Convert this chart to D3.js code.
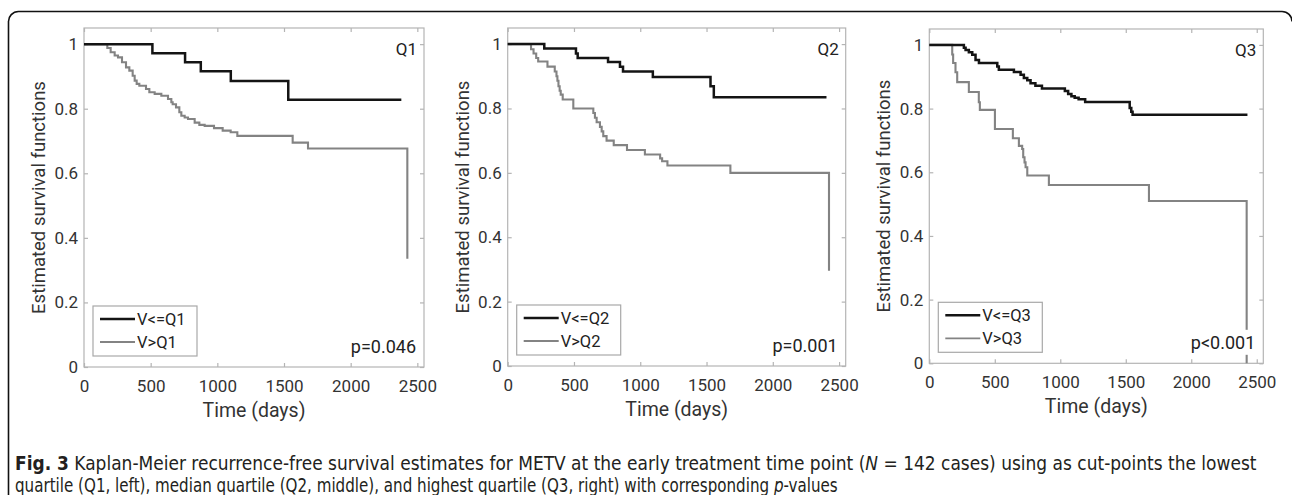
<!DOCTYPE html>
<html><head><meta charset="utf-8">
<script src="https://cdn.jsdelivr.net/npm/d3@7"></script>
<style>
body{margin:0;background:#fff;}
svg{display:block;}
</style></head><body>
<svg id="chart" width="1292" height="495"></svg>
<script>
// ---------- data ----------
const xTickValues = [0, 500, 1000, 1500, 2000, 2500];
const yTickValues = [0, 0.2, 0.4, 0.6, 0.8, 1];
const yTickLabels = ["0", "0.2", "0.4", "0.6", "0.8", "1"];
const panelNames = ["Q1", "Q2", "Q3"];
const lowLabels = ["V<=Q1", "V<=Q2", "V<=Q3"];
const highLabels = ["V>Q1", "V>Q2", "V>Q3"];
const pLabels = ["p=0.046", "p=0.001", "p<0.001"];

// Panel Q1
const q1LowTime = [0, 513, 758, 876, 1101, 1532, 2380];
const q1LowSurv = [1, 0.972, 0.944, 0.916, 0.886, 0.828, 0.828];
const q1HighTime = [0, 175, 200, 230, 255, 285, 315, 340, 365, 380, 395, 415, 465, 490, 530, 580, 630, 655, 665, 690, 715, 730, 755, 780, 830, 865, 905, 975, 1040, 1100, 1150, 1565, 1680, 2425];
const q1HighSurv = [1, 0.988, 0.975, 0.965, 0.959, 0.944, 0.928, 0.918, 0.902, 0.887, 0.877, 0.871, 0.861, 0.851, 0.846, 0.840, 0.830, 0.820, 0.814, 0.804, 0.789, 0.778, 0.773, 0.768, 0.757, 0.750, 0.747, 0.740, 0.732, 0.727, 0.716, 0.695, 0.677, 0.335];

// Panel Q2
const q2LowTime = [0, 276, 515, 528, 757, 847, 870, 1095, 1530, 1555, 2405];
const q2LowSurv = [1, 0.986, 0.971, 0.957, 0.944, 0.930, 0.915, 0.898, 0.869, 0.835, 0.835];
const q2HighTime = [0, 176, 195, 215, 230, 300, 355, 368, 375, 383, 392, 400, 415, 495, 646, 658, 671, 696, 709, 721, 746, 800, 900, 1035, 1150, 1165, 1205, 1680, 2424];
const q2HighSurv = [1, 0.984, 0.971, 0.957, 0.946, 0.930, 0.915, 0.900, 0.886, 0.869, 0.855, 0.843, 0.828, 0.800, 0.786, 0.771, 0.757, 0.743, 0.729, 0.714, 0.700, 0.686, 0.671, 0.657, 0.645, 0.636, 0.623, 0.600, 0.296];

// Panel Q3
const q3LowTime = [0, 264, 277, 302, 328, 353, 379, 519, 531, 646, 697, 722, 748, 773, 810, 860, 1035, 1060, 1085, 1110, 1140, 1190, 1530, 1542, 1552, 2429];
const q3LowSurv = [1, 0.991, 0.984, 0.977, 0.969, 0.953, 0.943, 0.932, 0.922, 0.915, 0.906, 0.896, 0.889, 0.880, 0.872, 0.863, 0.855, 0.846, 0.839, 0.834, 0.829, 0.821, 0.802, 0.790, 0.781, 0.781];
const q3HighTime = [0, 175, 182, 200, 213, 302, 378, 386, 501, 638, 684, 709, 717, 727, 735, 748, 913, 1677, 2423];
const q3HighSurv = [1, 0.970, 0.943, 0.914, 0.883, 0.852, 0.820, 0.796, 0.736, 0.707, 0.683, 0.673, 0.647, 0.631, 0.616, 0.590, 0.560, 0.510, 0];

// ---------- layout ----------
const layout = [
  {L: 84,    T: 28, R: 424,    B: 367},
  {L: 507.7, T: 28, R: 845.7,  B: 366},
  {L: 929.3, T: 29, R: 1263.3, B: 363.3}
];
const series = [
  [q1LowTime, q1LowSurv, q1HighTime, q1HighSurv],
  [q2LowTime, q2LowSurv, q2HighTime, q2HighSurv],
  [q3LowTime, q3LowSurv, q3HighTime, q3HighSurv]
];

const svg = d3.select("#chart");
const FONT = "Roboto, 'Noto Sans', sans-serif";
const TXT = "#333";
const BOX = "#b4b4b4";

// outer frame
svg.append("path")
  .attr("d", "M8.5,495 V22 A10,10 0 0 1 18.5,11.5 H1282 A10,10 0 0 1 1292,21.5")
  .attr("fill", "none").attr("stroke", "#111").attr("stroke-width", 1.6);

layout.forEach((p, i) => {
  const x = d3.scaleLinear().domain([0, 2550]).range([p.L, p.R]);
  const y = d3.scaleLinear().domain([0, 1.05]).range([p.B, p.T]);
  const g = svg.append("g");

  // box
  g.append("rect").attr("x", p.L).attr("y", p.T)
    .attr("width", p.R - p.L).attr("height", p.B - p.T)
    .attr("fill", "none").attr("stroke", BOX).attr("stroke-width", 1.2);

  const styleAxis = sel => {
    sel.select(".domain").remove();
    sel.selectAll(".tick line").attr("stroke", BOX).attr("stroke-width", 1.2);
    sel.selectAll(".tick text").attr("fill", TXT).style("font-family", FONT).style("font-size", "17px");
  };

  g.append("g").attr("transform", `translate(0,${p.B})`)
    .call(d3.axisBottom(x).tickValues(xTickValues).tickFormat(d3.format("d")).tickSize(-4).tickPadding(12.5))
    .call(styleAxis);
  g.append("g").attr("transform", `translate(0,${p.T})`)
    .call(d3.axisTop(x).tickValues(xTickValues).tickFormat("").tickSize(-4))
    .call(styleAxis);
  g.append("g").attr("transform", `translate(${p.L},0)`)
    .call(d3.axisLeft(y).tickValues(yTickValues).tickFormat((d, k) => yTickLabels[k]).tickSize(-4).tickPadding(6))
    .call(styleAxis);
  g.append("g").attr("transform", `translate(${p.R},0)`)
    .call(d3.axisRight(y).tickValues(yTickValues).tickFormat("").tickSize(-4))
    .call(styleAxis);

  // axis labels
  g.append("text")
    .attr("transform", `translate(${p.L - 39},${(p.T + p.B) / 2}) rotate(-90)`)
    .attr("text-anchor", "middle").attr("fill", TXT)
    .style("font-family", FONT).style("font-size", "18.5px")
    .text("Estimated survival functions");
  g.append("text")
    .attr("x", (p.L + p.R) / 2).attr("y", p.B + 50)
    .attr("text-anchor", "middle").attr("fill", TXT)
    .style("font-family", FONT).style("font-size", "19.5px")
    .text("Time (days)");

  // curves
  const [lt, ls, ht, hs] = series[i];
  const line = d3.line().x(d => x(d[0])).y(d => y(d[1])).curve(d3.curveStepAfter);
  g.append("path").datum(ht.map((t, k) => [t, hs[k]]))
    .attr("d", line).attr("fill", "none").attr("stroke", "#838383").attr("stroke-width", 2.1);
  g.append("path").datum(lt.map((t, k) => [t, ls[k]]))
    .attr("d", line).attr("fill", "none").attr("stroke", "#141414").attr("stroke-width", 2.5);

  // panel name
  g.append("text").attr("x", p.R - 7).attr("y", p.T + 27)
    .attr("text-anchor", "end").attr("fill", "#222")
    .style("font-family", FONT).style("font-size", "17px").text(panelNames[i]);

  // p-value with white background
  const pt = g.append("text").attr("x", p.R - 8).attr("y", p.B - 14.5)
    .attr("text-anchor", "end").attr("fill", "#222")
    .style("font-family", FONT).style("font-size", "18px").text(pLabels[i]);
  const bb = pt.node().getBBox();
  g.insert("rect", function () { return pt.node(); })
    .attr("x", bb.x - 2).attr("y", bb.y - 2).attr("width", bb.width + 4).attr("height", bb.height + 4)
    .attr("fill", "#fff");

  // legend
  const lx = p.L + 9, lw = 104, lh = 50, ly = p.B - 11 - lh;
  const lg = g.append("g");
  lg.append("rect").attr("x", lx).attr("y", ly).attr("width", lw).attr("height", lh)
    .attr("fill", "#fff").attr("stroke", "#a8a8a8").attr("stroke-width", 1.2);
  const items = [[lowLabels[i], "#141414", 2.6, 13], [highLabels[i], "#838383", 1.8, 36]];
  items.forEach(([lab, col, w, dy]) => {
    lg.append("line").attr("x1", lx + 7).attr("x2", lx + 42)
      .attr("y1", ly + dy).attr("y2", ly + dy).attr("stroke", col).attr("stroke-width", w);
    lg.append("text").attr("x", lx + 44).attr("y", ly + dy + 6)
      .attr("fill", "#222").style("font-family", FONT).style("font-size", "16.5px").text(lab);
  });
});

// ---------- caption ----------
const CAPFONT = "'Liberation Sans Narrow', 'DejaVu Sans Condensed', 'Open Sans', sans-serif";
function captionLine(yBase, targetWidth, parts) {
  const g = svg.append("g");
  const t = g.append("text").attr("x", 0).attr("y", 0).attr("fill", "#231f20")
    .style("font-family", CAPFONT).style("font-size", "20px");
  parts.forEach(([txt, st]) => {
    const ts = t.append("tspan").text(txt);
    if (st === "b") ts.attr("font-weight", "bold");
    if (st === "i") ts.attr("font-style", "italic");
  });
  const w = t.node().getComputedTextLength();
  g.attr("transform", `translate(15,${yBase}) scale(${targetWidth / w},1)`);
}
captionLine(469.5, 1242, [
  ["Fig. 3", "b"],
  [" Kaplan-Meier recurrence-free survival estimates for METV at the early treatment time point (", ""],
  ["N", "i"],
  [" = 142 cases) using as cut-points the lowest", ""]
]);
captionLine(492, 823, [
  ["quartile (Q1, left), median quartile (Q2, middle), and highest quartile (Q3, right) with corresponding ", ""],
  ["p", "i"],
  ["-values", ""]
]);
</script>
</body></html>
